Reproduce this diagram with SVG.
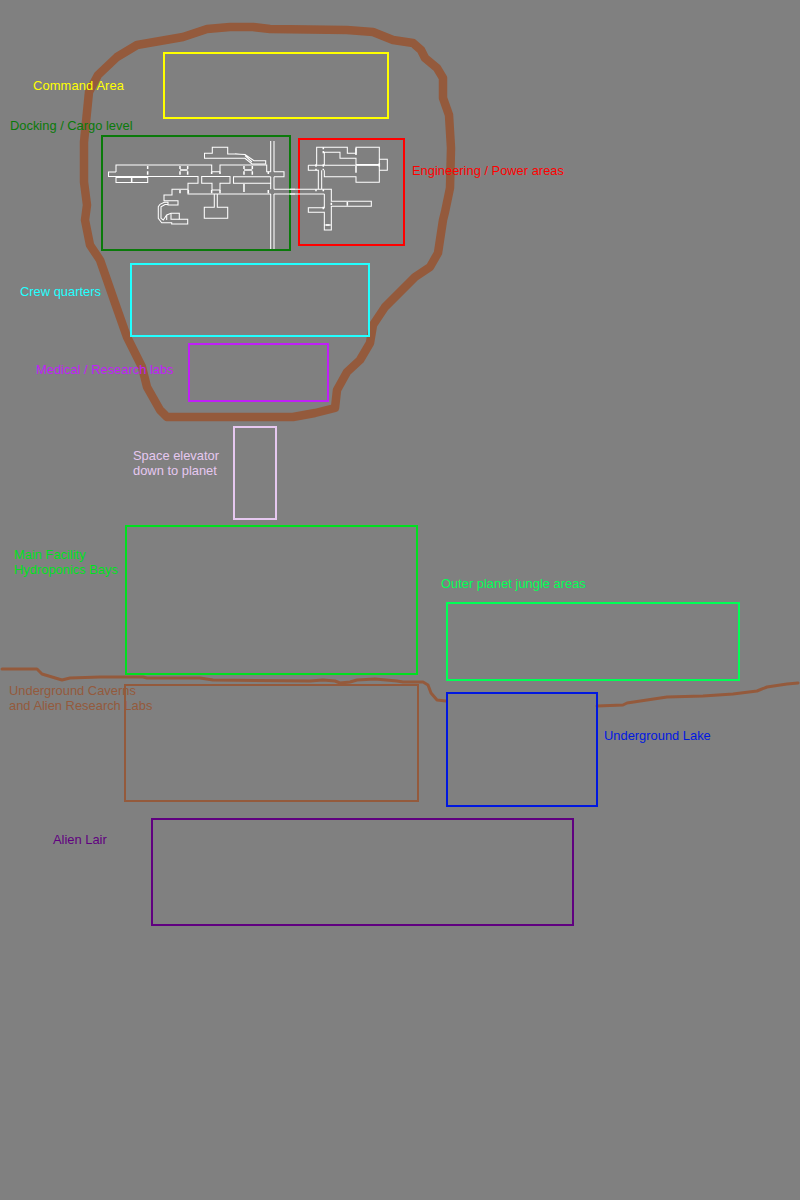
<svg xmlns="http://www.w3.org/2000/svg" width="800" height="1200" viewBox="0 0 800 1200">
<style>
text{font-family:"Liberation Sans",Arial,sans-serif;font-size:12.9px}
.z{fill:none;stroke-width:2}
.n{fill:none;stroke:#fff;stroke-width:1.05}
.m{fill:none;stroke:#fff;stroke-width:3.1}
.t{fill:none;stroke:#fff;stroke-width:4.6}
.b{fill:none;stroke:#945a3c;stroke-linejoin:round;stroke-linecap:round}
</style>
<rect width="800" height="1200" fill="#808080"/>
<g id="connectors">
<path class="b" stroke-width="8.5" d="M85 220L87 205L84 182L84 142L87 112L89 92L98 75L117 57L137 45L160 41L183 37L207 29L230 27L253 27L270 29L347 30L373 32L393 40L413 43L421 50L425 58L437 68L443 78L443 98L449 115L451 148L450 188L445 212L443 220L438 253L430 267L415 277L397 295L385 307L373 325L370 343L360 360L347 372L337 390L335 408L315 413L293 417L260 417L167 417L160 410L147 387L142 367L127 337L115 303L107 280L100 260L90 245Z"/>
<path class="b" stroke-width="3" stroke-linecap="butt" d="M2 669L37 669L42 674L62 680L70 678L100 677L143 677L147 678L200 678L213 680L310 681L323 680L335 681L340 683L350 682L357 680L375 679L397 681L403 682L423 682L428 685L431 693L437 700L446 701"/>
<path class="b" stroke-width="3" stroke-linecap="butt" d="M597 706L623 705L627 703L667 697L703 696L733 694L757 691L767 687L787 684L798 683"/>
</g>
<g id="command"><rect class="z" x="164" y="53" width="224" height="65" stroke="#ff0"/><text x="33" y="90" fill="#ff0" textLength="91">Command Area</text></g>
<g id="docking"><rect class="z" x="102" y="136" width="188" height="114" stroke="#0a7a0a"/><text x="10" y="130" fill="#0a7a0a">Docking / Cargo level</text>
<path class="n" d="M116 172H108.5V176.5H198V183.3H188V189.3H172V195H164V200.7H178V205H168V202.3H164.3L160 204.3L158.3 206.7V218.3L161.7 222.7H171.7V224H187.7V219.3H179.3V213.3H171L166.7 215L163.3 220L161 218.3V206.7L165 204.5H168"/>
<path class="n" d="M116 172V165H211.7V171.7H220V165H266.7V171.7H270.7M274 171.7H284V176.7H274M270.7 176.7H233.5V183.3H270.7M116 177.5H147.7V182.5H116ZM201.7 176.5H230V183.3H220V190H212V183.3H201.7ZM188 189.3V194H270.7M274 194H295M274 189.3H295M270.7 141V171.7M274 141V171.7M270.7 176.7V189.3M274 176.7V189.3M270.7 194V249M274 194V249M214.3 194V207.3H204.3V218.3H227.7V207.3H217.3V194M166.7 215V220M171 213.3V219.3H179.3"/>
<path class="n" d="M204.5 153.3H212.3V147.3H227.7V154H235L245 154.5L254 160.7H265.7V164H252L245 158.3H204.5ZM235 154L245 154.5M245 155.5L252 162"/>
<g transform="translate(100 130) scale(.3333)">
<path class="t" d="M143 108V117M143 124V134M240 108V117M240 124V134M263 108V117M263 124V134M432 108V117M432 124V134M457 108V117M457 124V134M240 120H263M432 120H457M95 142V156M432 162V186M265 180V190M240 180V190M335 125V132M360 125V132M335 180V190M360 180V190M505 125V132M505 180V190"/>
</g>
</g>
<g id="engineering"><rect class="z" x="299" y="139" width="105" height="106" stroke="#f00"/><text x="412" y="175" fill="#f00">Engineering / Power areas</text>
<g transform="translate(290 130) scale(.3333)">
<path class="m" d="M80 105V52H172V70H198V52H268V157H198V140H103V121M103 105V67H150V85H198V105M55 106H268M268 88H292V121H268M55 106V121H85V178M95 121V178M0 178H103M0 192H103M103 178H124V214H244V229H124V285H103V247H55V233H103V192M103 285V300H124V285M103 285H124"/>
<path class="t" d="M198 104H270M198 108V128M198 55V75M268 100V110M100 52V58M100 63V70M78 103V110M100 103V110M78 116V121M100 116V121M78 178V184M100 178V184M100 230V238M124 218V225M172 216V227M108 285H119"/>
</g>
</g>
<g id="crew"><rect class="z" x="131" y="264" width="238" height="72" stroke="#2ff"/><text x="20" y="296" fill="#2ff">Crew quarters</text></g>
<g id="medical"><rect class="z" x="189" y="344" width="139" height="57" stroke="#c020f8"/><text x="36" y="374" fill="#c020f8">Medical / Research labs</text></g>
<g id="elevator"><rect class="z" x="234" y="427" width="42" height="92" stroke="#e6c8f0"/><text x="133" y="460" fill="#e6c8f0">Space elevator</text><text x="133" y="475" fill="#e6c8f0">down to planet</text></g>
<g id="main"><rect class="z" x="126" y="526" width="291" height="148" stroke="#00e020"/><text x="14" y="559" fill="#00e020">Main Facility</text><text x="14" y="574" fill="#00e020">Hydroponics Bays</text></g>
<g id="jungle"><rect class="z" x="447" y="603" width="292" height="77" stroke="#0f5"/><text x="441" y="588" fill="#0f5">Outer planet jungle areas</text></g>
<g id="caverns"><rect class="z" x="125" y="685" width="293" height="116" stroke="#945a3c"/><text x="9" y="695" fill="#945a3c">Underground Caverns</text><text x="9" y="710" fill="#945a3c">and Alien Research Labs</text></g>
<g id="lake"><rect class="z" x="447" y="693" width="150" height="113" stroke="#0018e0"/><text x="604" y="740" fill="#0018e0">Underground Lake</text></g>
<g id="lair"><rect class="z" x="152" y="819" width="421" height="106" stroke="#600080"/><text x="53" y="844" fill="#600080">Alien Lair</text></g>
</svg>
